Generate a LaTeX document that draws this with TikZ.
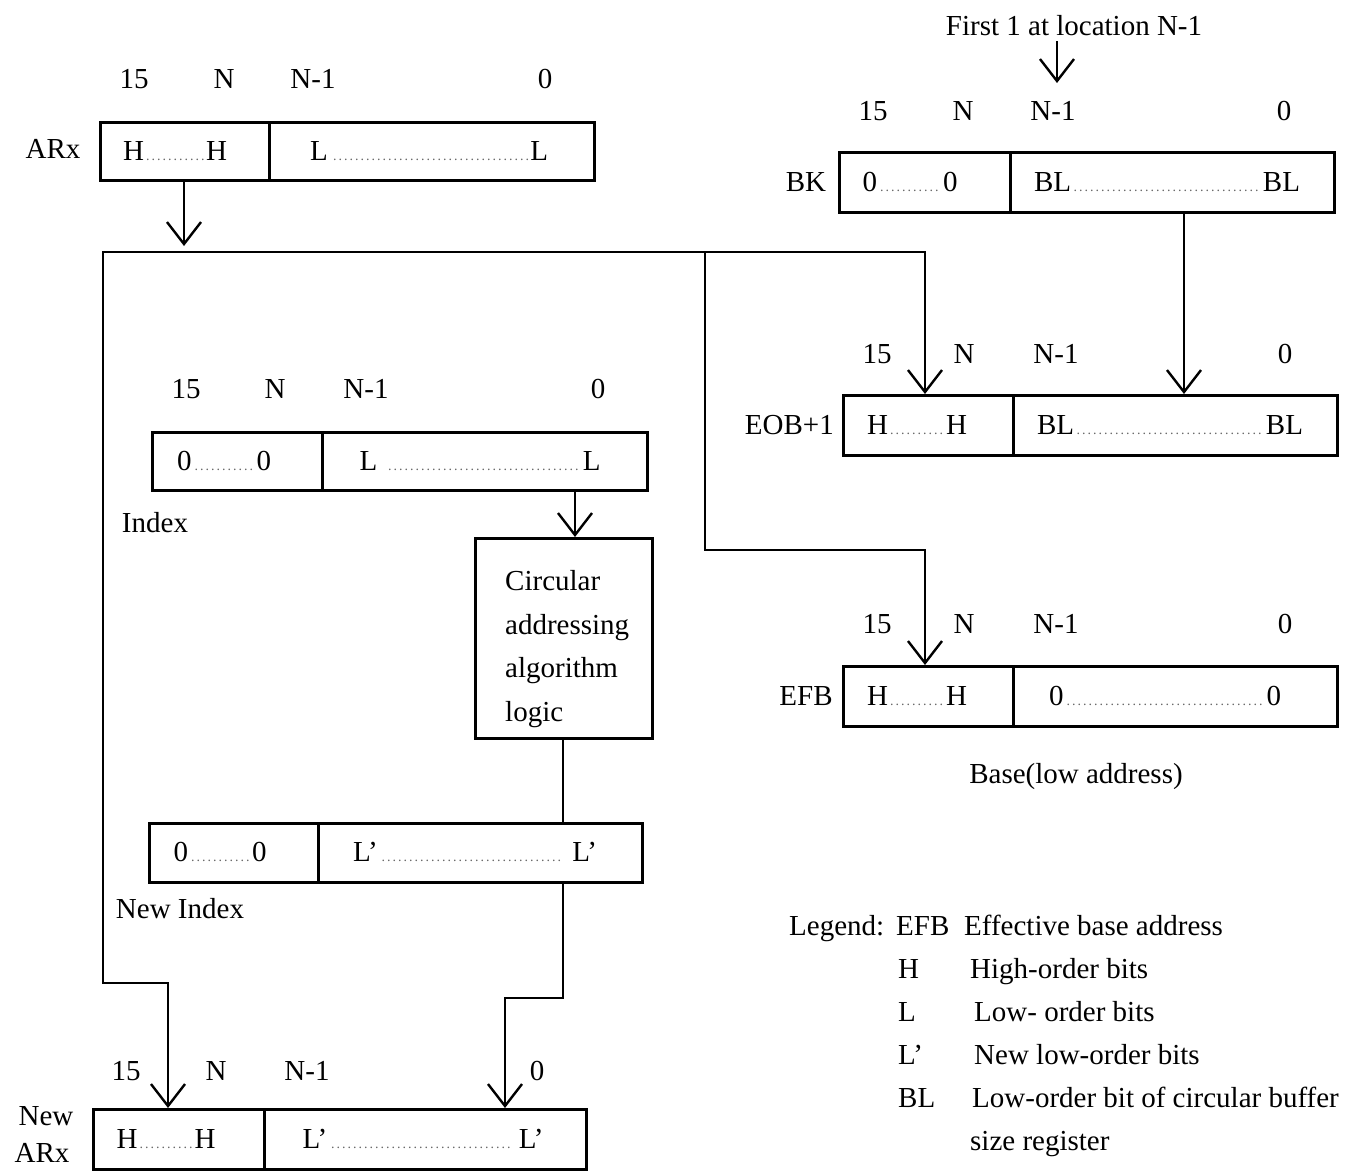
\documentclass[tikz,border=0pt]{standalone}
\usepackage{fontspec}
\setmainfont{Liberation Serif}
\usetikzlibrary{arrows.meta}
\newcommand\dotsfill{\leaders\hbox to 5.5pt{\hss\textcolor{black!60}{\fontsize{14}{14}\selectfont.}\hss}\hfill}
\newcommand\dfill[3]{\makebox[#1pt]{#2\dotsfill#3}}
\begin{document}
\begin{tikzpicture}[x=1pt,y=-1pt,
  every node/.style={font=\fontsize{29}{34}\selectfont, inner sep=0pt},
  box/.style={draw, line width=2.6pt, anchor=north west},
  lbl/.style={anchor=base},
  lw/.style={anchor=base west},
  conn/.style={line width=2.4pt, line cap=rect},
  arr/.style={conn, -{Straight Barb[length=22pt,width=34pt]}}]
\useasboundingbox (0,0) rectangle (1355,1175);

% ---------- ARx ----------
\node[box, minimum width=169pt, minimum height=58pt] (arx_hi) at (99,121) {};
\node[box, minimum width=325pt, minimum height=58pt] (arx_lo) at (268,121) {};
\node[lbl] (arx_t1) at (175,160) {\dfill{104}{H}{H}};
\node[lbl] (arx_t2) at (429,160) {\dfill{238}{L}{L}};
\node[lbl] (arx_name) at (53,158) {ARx};
\node[lbl] (arx_b15) at (134,88) {15};
\node[lbl] (arx_bN) at (224,88) {N};
\node[lbl] (arx_bN1) at (313,88) {N-1};
\node[lbl] (arx_b0) at (545,88) {0};

% ---------- BK ----------
\node[lbl] (first) at (1074,35) {First 1 at location N-1};
\node[box, minimum width=171pt, minimum height=60pt] (bk_hi) at (838,151) {};
\node[box, minimum width=324pt, minimum height=60pt] (bk_lo) at (1009,151) {};
\node[lbl] (bk_t1) at (910,191) {\dfill{95}{0}{0}};
\node[lbl] (bk_t2) at (1167,191) {\dfill{266}{BL}{BL}};
\node[lbl] (bk_name) at (806,191) {BK};
\node[lbl] (bk_b15) at (873,120) {15};
\node[lbl] (bk_bN) at (963,120) {N};
\node[lbl] (bk_bN1) at (1053,120) {N-1};
\node[lbl] (bk_b0) at (1284,120) {0};

% ---------- EOB+1 ----------
\node[box, minimum width=170pt, minimum height=60pt] (eob_hi) at (842,394) {};
\node[box, minimum width=324pt, minimum height=60pt] (eob_lo) at (1012,394) {};
\node[lbl] (eob_t1) at (917,434) {\dfill{100}{H}{H}};
\node[lbl] (eob_t2) at (1170,434) {\dfill{266}{BL}{BL}};
\node[anchor=base east] (eob_name) at (834,434) {EOB+1};
\node[lbl] (eob_b15) at (877,363) {15};
\node[lbl] (eob_bN) at (964,363) {N};
\node[lbl] (eob_bN1) at (1056,363) {N-1};
\node[lbl] (eob_b0) at (1285,363) {0};

% ---------- EFB ----------
\node[box, minimum width=170pt, minimum height=60pt] (efb_hi) at (842,665) {};
\node[box, minimum width=324pt, minimum height=60pt] (efb_lo) at (1012,665) {};
\node[lbl] (efb_t1) at (917,705) {\dfill{100}{H}{H}};
\node[lbl] (efb_t2) at (1165,705) {\dfill{232}{0}{0}};
\node[lbl] (efb_name) at (806,705) {EFB};
\node[lbl] (efb_b15) at (877,633) {15};
\node[lbl] (efb_bN) at (964,633) {N};
\node[lbl] (efb_bN1) at (1056,633) {N-1};
\node[lbl] (efb_b0) at (1285,633) {0};
\node[lbl] (base) at (1076,783) {Base(low address)};

% ---------- Index ----------
\node[box, minimum width=170pt, minimum height=58pt] (idx_hi) at (151,431) {};
\node[box, minimum width=325pt, minimum height=58pt] (idx_lo) at (321,431) {};
\node[lbl] (idx_t1) at (224,470) {\dfill{94}{0}{0}};
\node[lbl] (idx_t2) at (480,470) {\dfill{241}{L\ }{L}};
\node[lbl] (idx_name) at (155,532) {Index};
\node[lbl] (idx_b15) at (186,398) {15};
\node[lbl] (idx_bN) at (275,398) {N};
\node[lbl] (idx_bN1) at (366,398) {N-1};
\node[lbl] (idx_b0) at (598,398) {0};

% ---------- Circular logic ----------
\node[box, minimum width=177pt, minimum height=200pt] (circ) at (474,537) {};
\node[lw] (c1) at (505,590) {Circular};
\node[lw] (c2) at (505,634) {addressing};
\node[lw] (c3) at (505,677) {algorithm};
\node[lw] (c4) at (505,721) {logic};

% ---------- New Index ----------
\node[box, minimum width=169pt, minimum height=59pt] (nidx_hi) at (148,822) {};
\node[box, minimum width=324pt, minimum height=59pt] (nidx_lo) at (317,822) {};
\node[lbl] (nidx_t1) at (220,861) {\dfill{93}{0}{0}};
\node[lbl] (nidx_t2) at (475,861) {\dfill{244}{L'}{\ L'}};
\node[lbl] (nidx_name) at (180,918) {New Index};

% ---------- New ARx ----------
\node[box, minimum width=171pt, minimum height=60pt] (narx_hi) at (92,1108) {};
\node[box, minimum width=322pt, minimum height=60pt] (narx_lo) at (263,1108) {};
\node[lbl] (narx_t1) at (166,1148) {\dfill{99}{H}{H}};
\node[lbl] (narx_t2) at (423,1148) {\dfill{241}{L'}{\ L'}};
\node[lbl] (narx_name1) at (46,1125) {New};
\node[lbl] (narx_name2) at (42,1162) {ARx};
\node[lbl] (narx_b15) at (126,1080) {15};
\node[lbl] (narx_bN) at (216,1080) {N};
\node[lbl] (narx_bN1) at (307,1080) {N-1};
\node[lbl] (narx_b0) at (537,1080) {0};

% ---------- Legend ----------
\node[lw] (lg0) at (789,935) {Legend:};
\node[lw] (lgk1) at (896,935) {EFB};
\node[lw] (lgv1) at (964,935) {Effective base address};
\node[lw] (lgk2) at (898,978) {H};
\node[lw] (lgv2) at (970,978) {High-order bits};
\node[lw] (lgk3) at (898,1021) {L};
\node[lw] (lgv3) at (974,1021) {Low- order bits};
\node[lw] (lgk4) at (898,1064) {L'};
\node[lw] (lgv4) at (974,1064) {New low-order bits};
\node[lw] (lgk5) at (898,1107) {BL};
\node[lw] (lgv5) at (972,1107) {Low-order bit of circular buffer};
\node[lw] (lgv6) at (970,1150) {size register};

% ---------- connectors ----------
\coordinate (busL) at (103,252);
\coordinate (busR) at (925,252);
\coordinate (busT) at (705,252);
\coordinate (stepL) at (103,983);
\coordinate (stepL2) at (168,983);
\coordinate (tapB) at (705,550);
\coordinate (tapB2) at (925,550);
\coordinate (stepR) at (563,998);
\coordinate (stepR2) at (505,998);
\coordinate (arxdrop) at (184,246);
\coordinate (bkdrop) at (1184,300);
\coordinate (firsttip) at (1057,83);
\coordinate (idxdrop) at (575,500);
\coordinate (circdrop) at (563,800);

\draw[arr] (arxdrop |- arx_hi.south) -- (arxdrop);
\draw[arr] (stepL) -- (busL) -- (busR) -- (busR |- eob_hi.north);
\draw[arr] (stepL) -- (stepL2) -- (stepL2 |- narx_hi.north);
\draw[arr] (busT) -- (tapB) -- (tapB2) -- (tapB2 |- efb_hi.north);
\draw[arr] (bkdrop |- bk_lo.south) -- (bkdrop |- eob_lo.north);
\draw[arr, shorten <=7pt] (firsttip |- first.south) -- (firsttip);
\draw[arr] (idxdrop |- idx_lo.south) -- (idxdrop |- circ.north);
\draw[conn] (circdrop |- circ.south) -- (circdrop |- nidx_lo.north);
\draw[arr] (stepR |- nidx_lo.south) -- (stepR) -- (stepR2) -- (stepR2 |- narx_lo.north);
\end{tikzpicture}
\end{document}
